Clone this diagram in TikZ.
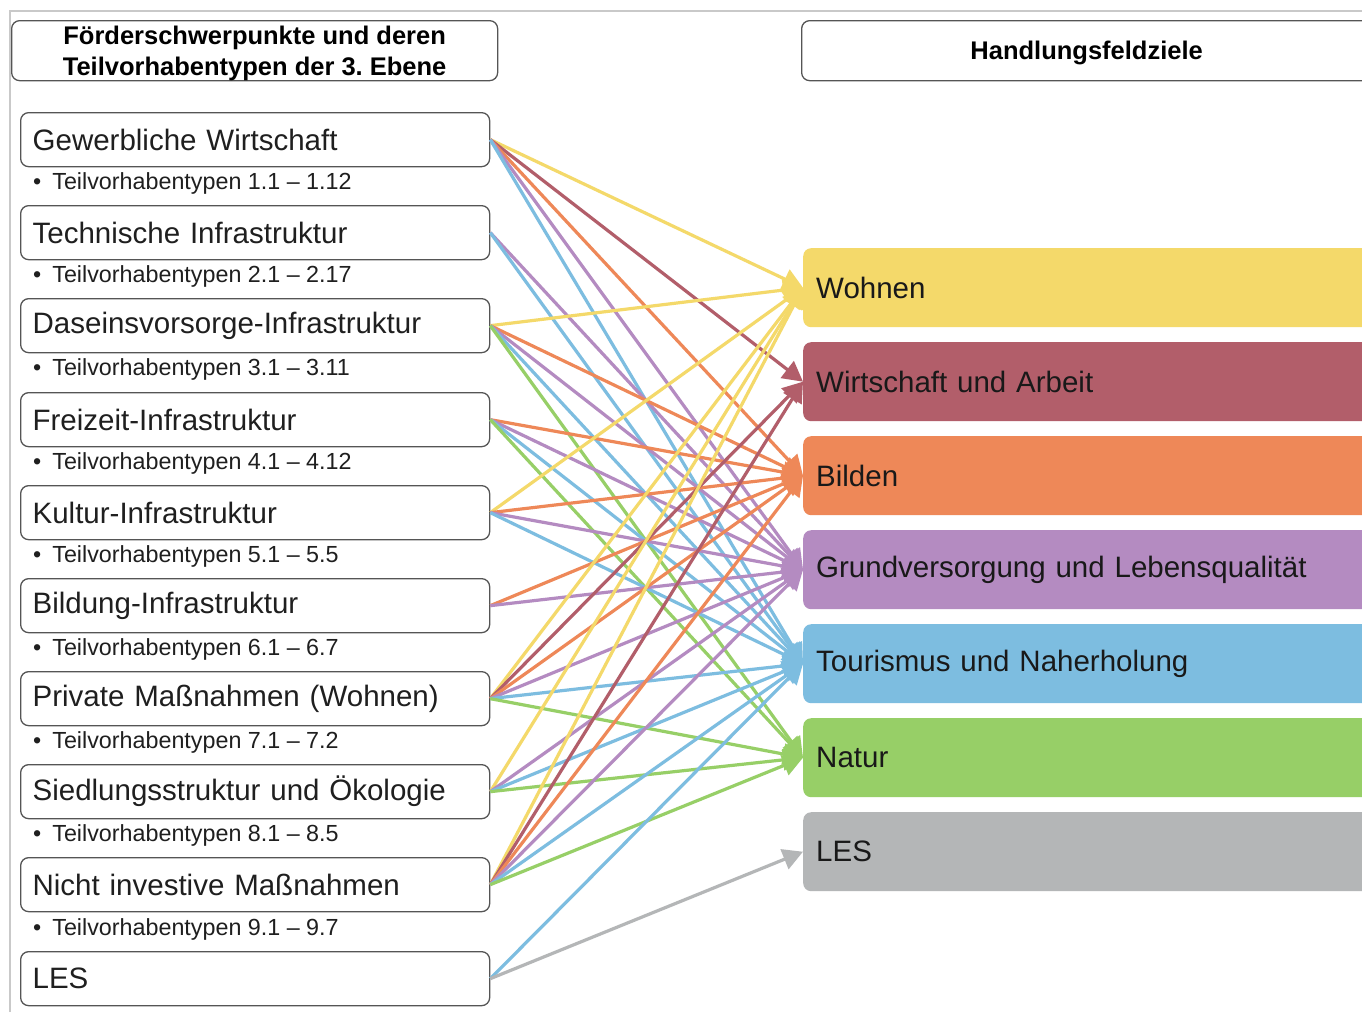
\documentclass[tikz,border=0pt]{standalone}
\usepackage{fontspec}
\setmainfont{Liberation Sans}
\usetikzlibrary{arrows.meta}
\frenchspacing
\definecolor{cY}{HTML}{F4D96A}
\definecolor{cR}{HTML}{B25E6A}
\definecolor{cO}{HTML}{EE8858}
\definecolor{cP}{HTML}{B48BC1}
\definecolor{cB}{HTML}{7DBDE0}
\definecolor{cG}{HTML}{97CF67}
\definecolor{cL}{HTML}{B4B6B7}
\definecolor{frameC}{HTML}{C9C9C9}
\definecolor{boxC}{HTML}{555555}
\begin{document}
\begin{tikzpicture}[x=1pt,y=-1pt,
  srcbox/.style={draw=boxC, line width=1.3pt, rounded corners=8pt, fill=white,
    anchor=north west, minimum height=54pt, inner xsep=12pt, inner ysep=0pt,
    text width=445pt, align=left, font=\fontsize{29.5}{34}\selectfont, text=black!88},
  subtxt/.style={anchor=west, inner sep=0pt, font=\fontsize{23.3}{27}\selectfont, text=black!88},
  tgtbox/.style={rounded corners=8pt, anchor=north west, minimum height=79pt,
    inner xsep=13pt, inner ysep=0pt, text width=544pt, align=left,
    font=\fontsize{29.5}{34}\selectfont, text=black!90},
  headbox/.style={draw=boxC, line width=1.3pt, rounded corners=8pt, fill=white,
    anchor=north west, minimum height=60pt, inner sep=0pt},
  headtxt/.style={inner sep=0pt, align=center,
    font=\fontsize{25.5}{31}\selectfont\bfseries, text=black},
  conn/.style={line width=3.2pt, -{Triangle[length=20pt,width=21pt]}}
]
\useasboundingbox (0,0) rectangle (1362,1012);
\clip (0,0) rectangle (1362,1012);
\fill[white] (0,0) rectangle (1362,1012);
% frame
\draw[frameC, line width=1.5pt] (10,1012) -- (10,11) -- (1362,11);
% headers
\node[headbox, minimum width=486pt] (h1) at (11,20) {};
\node[headtxt] (h1t) at ([yshift=-3pt]h1.center) {Förderschwerpunkte und deren\\Teilvorhabentypen der 3. Ebene};
\node[headbox, minimum width=570pt] (h2) at (801,20) {};
\node[headtxt] (h2t) at ([yshift=-2pt]h2.center) {Handlungsfeldziele};
% target boxes
\node[tgtbox, fill=cY] (t1) at (803,248) {Wohnen};
\node[tgtbox, fill=cR] (t2) at (803,342) {Wirtschaft und Arbeit};
\node[tgtbox, fill=cO] (t3) at (803,436) {Bilden};
\node[tgtbox, fill=cP] (t4) at (803,530) {Grundversorgung und Lebensqualität};
\node[tgtbox, fill=cB] (t5) at (803,624) {Tourismus und Naherholung};
\node[tgtbox, fill=cG] (t6) at (803,718) {Natur};
\node[tgtbox, fill=cL] (t7) at (803,812) {LES};
% source boxes
\node[srcbox] (s1) at (20,112) {Gewerbliche Wirtschaft};
\node[srcbox] (s2) at (20,205) {Technische Infrastruktur};
\node[srcbox] (s3) at (20,298) {Daseinsvorsorge-Infrastruktur};
\node[srcbox] (s4) at (20,392) {Freizeit-Infrastruktur};
\node[srcbox] (s5) at (20,485) {Kultur-Infrastruktur};
\node[srcbox] (s6) at (20,578) {Bildung-Infrastruktur};
\node[srcbox] (s7) at (20,671) {Private Maßnahmen (Wohnen)};
\node[srcbox] (s8) at (20,764) {Siedlungsstruktur und Ökologie};
\node[srcbox] (s9) at (20,857) {Nicht investive Maßnahmen};
\node[srcbox] (s10) at (20,951) {LES};
% subtitles
\node[subtxt] (u1) at (33,183) {\textbullet\hspace{11pt}Teilvorhabentypen 1.1 – 1.12};
\node[subtxt] (u2) at (33,276) {\textbullet\hspace{11pt}Teilvorhabentypen 2.1 – 2.17};
\node[subtxt] (u3) at (33,369) {\textbullet\hspace{11pt}Teilvorhabentypen 3.1 – 3.11};
\node[subtxt] (u4) at (33,463) {\textbullet\hspace{11pt}Teilvorhabentypen 4.1 – 4.12};
\node[subtxt] (u5) at (33,556) {\textbullet\hspace{11pt}Teilvorhabentypen 5.1 – 5.5};
\node[subtxt] (u6) at (33,649) {\textbullet\hspace{11pt}Teilvorhabentypen 6.1 – 6.7};
\node[subtxt] (u7) at (33,742) {\textbullet\hspace{11pt}Teilvorhabentypen 7.1 – 7.2};
\node[subtxt] (u8) at (33,835) {\textbullet\hspace{11pt}Teilvorhabentypen 8.1 – 8.5};
\node[subtxt] (u9) at (33,929) {\textbullet\hspace{11pt}Teilvorhabentypen 9.1 – 9.7};
% connectors
\foreach \s/\t/\c in {
  s1/t1/cY, s1/t2/cR, s1/t3/cO, s1/t4/cP, s1/t5/cB,
  s2/t4/cP, s2/t5/cB,
  s3/t1/cY, s3/t3/cO, s3/t4/cP, s3/t5/cB, s3/t6/cG,
  s4/t3/cO, s4/t4/cP, s4/t5/cB, s4/t6/cG,
  s5/t1/cY, s5/t3/cO, s5/t4/cP, s5/t5/cB,
  s6/t3/cO, s6/t4/cP,
  s7/t1/cY, s7/t2/cR, s7/t3/cO, s7/t4/cP, s7/t5/cB, s7/t6/cG,
  s8/t1/cY, s8/t4/cP, s8/t5/cB, s8/t6/cG,
  s9/t1/cY, s9/t2/cR, s9/t3/cO, s9/t4/cP, s9/t5/cB, s9/t6/cG,
  s10/t5/cB, s10/t7/cL}
  \draw[conn, \c] (\s.east) -- (\t.west);
\end{tikzpicture}
\end{document}
